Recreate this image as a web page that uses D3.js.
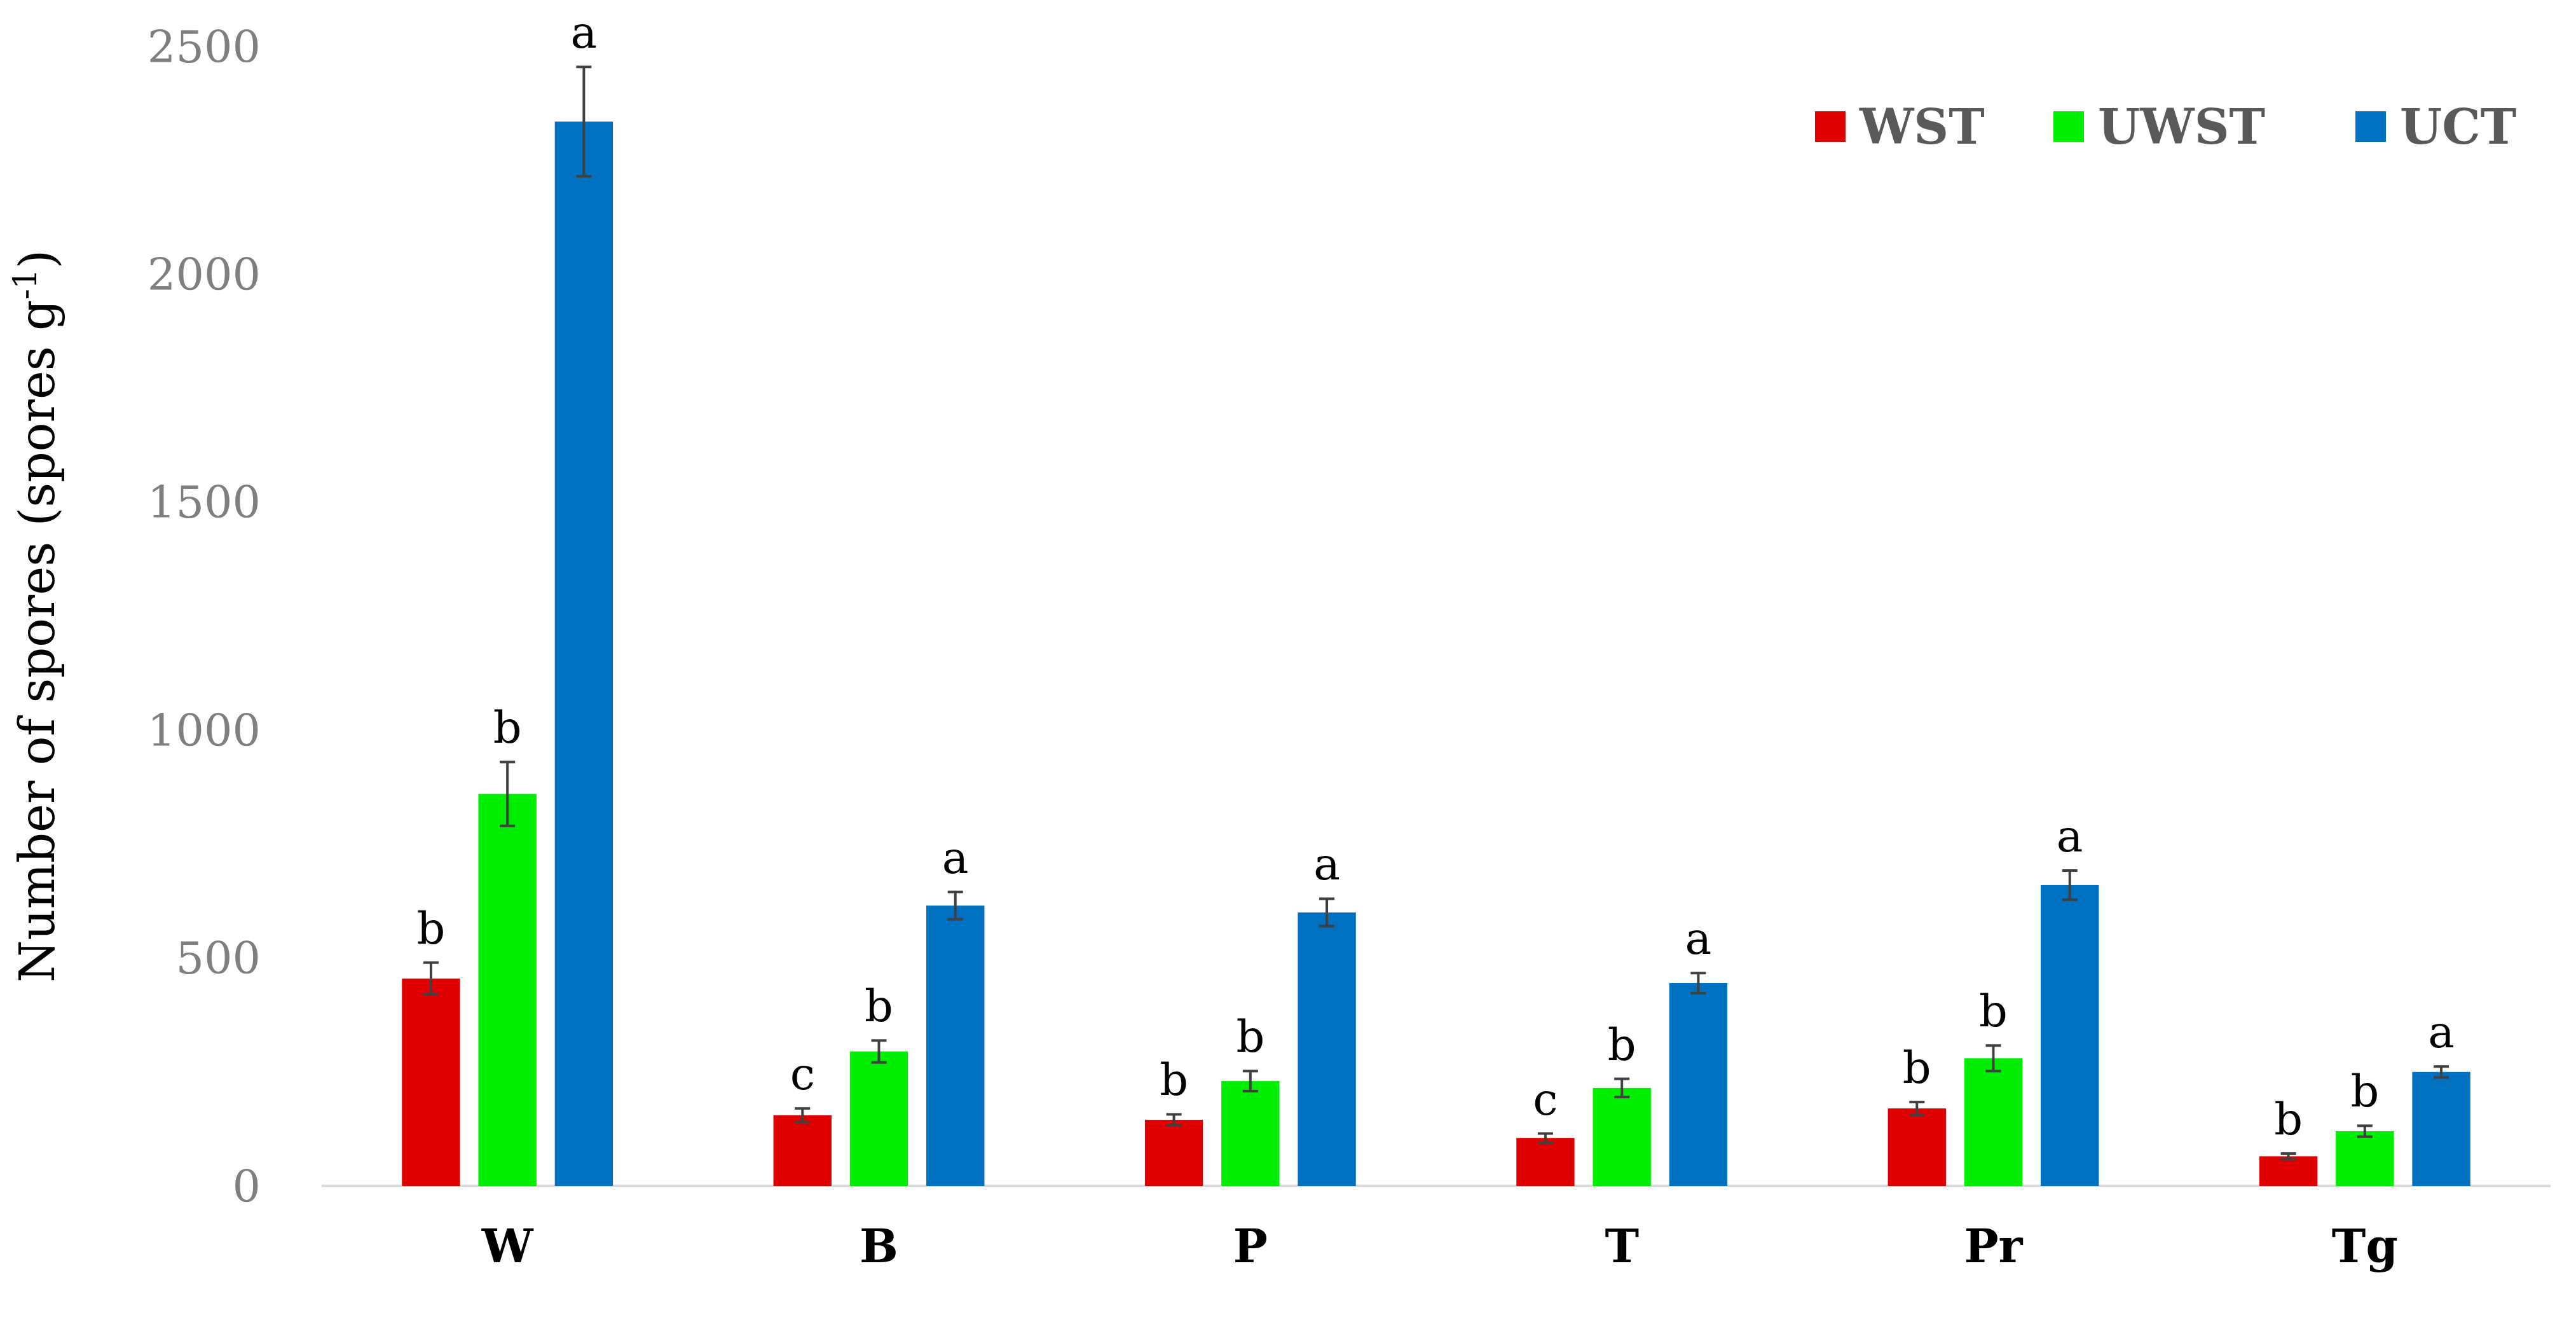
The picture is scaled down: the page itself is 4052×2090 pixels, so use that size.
<!DOCTYPE html>
<html><head><meta charset="utf-8">
<script src="https://cdn.jsdelivr.net/npm/d3@7"></script>
<style>body{margin:0;background:#fff}</style>
</head><body>
<script>
const categories = ["W", "B", "P", "T", "Pr", "Tg"];
const series = ["WST", "UWST", "UCT"];
const colors = ["#e00000", "#00ee00", "#0070c0"];
const WST = [455, 155, 145, 105, 170, 65];
const UWST = [860, 295, 230, 215, 280, 120];
const UCT = [2335, 615, 600, 445, 660, 250];
const errWST = [35, 15, 12, 10, 14, 6];
const errUWST = [70, 24, 22, 20, 28, 12];
const errUCT = [120, 30, 30, 22, 32, 12];
const letWST = ["b", "c", "b", "c", "b", "b"];
const letUWST = ["b", "b", "b", "b", "b", "b"];
const letUCT = ["a", "a", "a", "a", "a", "a"];
const yTicks = [0, 500, 1000, 1500, 2000, 2500];

const vals = [WST, UWST, UCT], errs = [errWST, errUWST, errUCT], lets = [letWST, letUWST, letUCT];
const W = 4052, H = 2090, font = "'DejaVu Serif', 'Liberation Serif', serif";
const svg = d3.select("body").append("svg").attr("width", W).attr("height", H).style("font-family", font);

const x = d3.scaleBand().domain(categories).range([506, 4012]);
const xs = d3.scaleBand().domain(series).range([0, x.bandwidth()]).paddingInner(0.24).paddingOuter(1.05);
const y = d3.scaleLinear().domain([0, 2500]).range([1865, 73]);

// y tick labels
svg.selectAll(".yt").data(yTicks).enter().append("text")
  .attr("x", 410).attr("y", d => y(d)).attr("dy", "0.35em").attr("text-anchor", "end")
  .attr("font-size", 70).attr("fill", "#7f7f7f").text(d => d);

svg.append("line").attr("x1", 506).attr("x2", 4012).attr("y1", y(0)).attr("y2", y(0))
  .attr("stroke", "#d9d9d9").attr("stroke-width", 4);

series.forEach((s, si) => {
  const g = svg.append("g");
  categories.forEach((c, ci) => {
    const v = vals[si][ci], e = errs[si][ci];
    const bx = x(c) + xs(s), cx = bx + xs.bandwidth() / 2;
    g.append("rect").attr("x", bx).attr("y", y(v)).attr("width", xs.bandwidth())
      .attr("height", y(0) - y(v)).attr("fill", colors[si]);
    g.append("line").attr("x1", cx).attr("x2", cx).attr("y1", y(v + e)).attr("y2", y(v - e))
      .attr("stroke", "#404040").attr("stroke-width", 4);
    [v + e, v - e].forEach(t => g.append("line").attr("x1", cx - 12).attr("x2", cx + 12)
      .attr("y1", y(t)).attr("y2", y(t)).attr("stroke", "#404040").attr("stroke-width", 4));
    g.append("text").attr("x", cx).attr("y", y(v + e) - 30).attr("text-anchor", "middle")
      .attr("font-size", 70).attr("fill", "#000").text(lets[si][ci]);
  });
});

// category labels
svg.selectAll(".xt").data(categories).enter().append("text")
  .attr("x", d => x(d) + x.bandwidth() / 2).attr("y", 1960).attr("dy", "0.35em")
  .attr("text-anchor", "middle").attr("font-size", 72).attr("font-weight", "bold").text(d => d);

// y axis title
const yt = svg.append("text").attr("transform", "translate(85," + (y(1250)) + ") rotate(-90)")
  .attr("text-anchor", "middle").attr("font-size", 76);
yt.append("tspan").text("Number of spores (spores g");
yt.append("tspan").attr("font-size", 50).attr("dy", -28).text("-1");
yt.append("tspan").attr("dy", 28).text(")");

// legend
const legX = [2855, 3230, 3705];
series.forEach((s, i) => {
  svg.append("rect").attr("x", legX[i]).attr("y", 175).attr("width", 48).attr("height", 48).attr("fill", colors[i]);
  svg.append("text").attr("x", legX[i] + 70).attr("y", 199).attr("dy", "0.35em")
    .attr("font-size", 76).attr("font-weight", "bold").attr("fill", "#595959").text(s);
});
</script>
</body></html>
